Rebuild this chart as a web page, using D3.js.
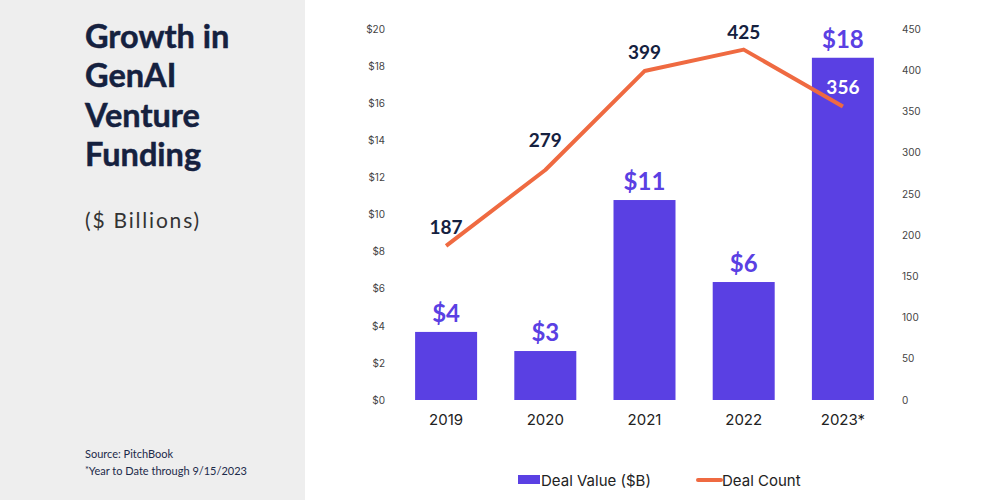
<!DOCTYPE html>
<html><head><meta charset="utf-8">
<script src="https://cdn.jsdelivr.net/npm/d3@7/dist/d3.min.js"></script>
<style>
html,body{margin:0;padding:0;background:#fff;}
svg{display:block;}
</style></head>
<body>
<svg id="chart" width="1000" height="500"></svg>
<script>
const years = ["2019","2020","2021","2022","2023*"];
const dealValue = [3.67, 2.64, 10.78, 6.36, 18.45];
const valueLabels = ["$4","$3","$11","$6","$18"];
const dealCount = [187, 279, 399, 425, 356];
const leftTicks = [0,2,4,6,8,10,12,14,16,18,20];
const rightTicks = [0,50,100,150,200,250,300,350,400,450];

const countLabelDy = [-12, -23, -12, -11, -12];
const countLabelColor = ["#15213f","#15213f","#15213f","#15213f","#ffffff"];

const svg = d3.select("#chart");
const barColor = "#5a40e3";
const lineColor = "#ef6a41";
const navy = "#15213f";

// left gray panel
svg.append("rect").attr("x",0).attr("y",0).attr("width",305).attr("height",500).attr("fill","#eeeeee");

const title = ["Growth in","GenAI","Venture","Funding"];
svg.append("g").selectAll("text").data(title).join("text")
  .attr("x",85).attr("y",(d,i)=>48+i*39.3)
  .attr("font-family","Lato, 'Open Sans', sans-serif").attr("font-weight",700)
  .attr("font-size",32.5).attr("fill",navy).attr("stroke",navy).attr("stroke-width",0.5).text(d=>d);

svg.append("text").attr("x",85).attr("y",228)
  .attr("font-family","Lato, 'Open Sans', sans-serif").attr("font-size",21)
  .attr("letter-spacing",1.8).attr("fill","#333").text("($ Billions)");

svg.append("text").attr("x",85).attr("y",458)
  .attr("font-family","Lato, 'Open Sans', sans-serif").attr("font-size",11)
  .attr("fill","#1c2a4a").text("Source: PitchBook");
const fn = svg.append("text").attr("x",85).attr("y",475)
  .attr("font-family","Lato, 'Open Sans', sans-serif").attr("font-size",11)
  .attr("fill","#1c2a4a");
fn.append("tspan").attr("font-size",9).attr("dy",-2).text("*");
fn.append("tspan").attr("dy",2).text("Year to Date through 9/15/2023");

// scales
const x = d3.scaleBand().domain(years).range([396.5, 892.5]).paddingInner(0.375).paddingOuter(0.1875);
const yL = d3.scaleLinear().domain([0,20]).range([400,29]);
const yR = d3.scaleLinear().domain([0,450]).range([400,29]);

// axes
const axL = d3.axisLeft(yL).tickValues(leftTicks).tickFormat(d=>"$"+d).tickSize(0).tickPadding(0);
const gL = svg.append("g").attr("transform","translate(385,0)").call(axL);
gL.select(".domain").remove();
gL.selectAll("text").attr("font-family","Inter, sans-serif").attr("font-size",10).attr("fill","#444");

const axR = d3.axisRight(yR).tickValues(rightTicks).tickSize(0).tickPadding(0);
const gR = svg.append("g").attr("transform","translate(902,0)").call(axR);
gR.select(".domain").remove();
gR.selectAll("text").attr("font-family","Inter, sans-serif").attr("font-size",10).attr("fill","#444");

const axB = d3.axisBottom(x).tickSize(0).tickPadding(0);
const gB = svg.append("g").attr("transform","translate(0,414)").call(axB);
gB.select(".domain").remove();
gB.selectAll("text").attr("font-family","Inter, sans-serif").attr("font-size",15).attr("fill","#222").attr("dy","0.71em");

// bars
svg.append("g").selectAll("rect").data(years).join("rect")
  .attr("x",d=>x(d)).attr("width",x.bandwidth())
  .attr("y",(d,i)=>yL(dealValue[i])).attr("height",(d,i)=>yL(0)-yL(dealValue[i]))
  .attr("fill",barColor);

// bar labels
svg.append("g").selectAll("text").data(years).join("text")
  .attr("x",d=>x(d)+x.bandwidth()/2).attr("y",(d,i)=>yL(dealValue[i])-10)
  .attr("text-anchor","middle").attr("font-family","Lato, 'Open Sans', sans-serif")
  .attr("font-weight",700).attr("font-size",24).attr("fill",barColor)
  .text((d,i)=>valueLabels[i]);

// line
const line = d3.line().x((d,i)=>x(years[i])+x.bandwidth()/2).y(d=>yR(d));
svg.append("path").datum(dealCount).attr("d",line)
  .attr("fill","none").attr("stroke",lineColor).attr("stroke-width",4).attr("stroke-linejoin","round");

svg.append("g").selectAll("text").data(dealCount).join("text")
  .attr("x",(d,i)=>x(years[i])+x.bandwidth()/2).attr("y",(d,i)=>yR(d)+countLabelDy[i])
  .attr("text-anchor","middle").attr("font-family","Lato, 'Open Sans', sans-serif")
  .attr("font-weight",700).attr("font-size",19).attr("fill",(d,i)=>countLabelColor[i])
  .text(d=>d);

// legend
const lg = svg.append("g");
lg.append("rect").attr("x",518).attr("y",475).attr("width",22).attr("height",9).attr("fill",barColor);
lg.append("text").attr("x",541).attr("y",485.5).attr("font-family","Inter, sans-serif").attr("font-size",15).attr("fill","#222").text("Deal Value ($B)");
lg.append("line").attr("x1",698).attr("x2",721).attr("y1",480).attr("y2",480).attr("stroke",lineColor).attr("stroke-width",4).attr("stroke-linecap","round");
lg.append("text").attr("x",722).attr("y",485.5).attr("font-family","Inter, sans-serif").attr("font-size",15).attr("fill","#222").text("Deal Count");
</script>
</body></html>
